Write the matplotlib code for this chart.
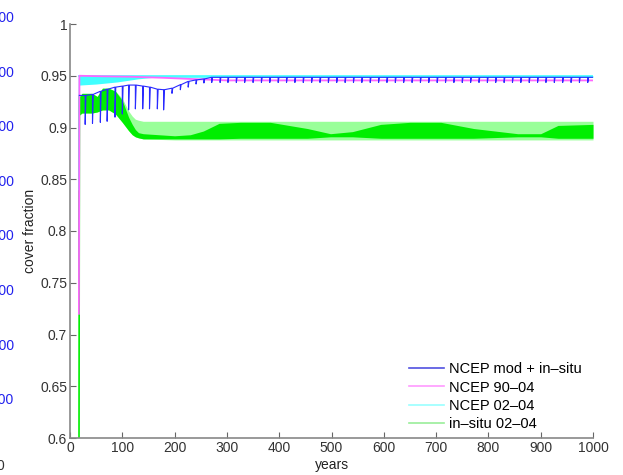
import matplotlib.pyplot as plt
from matplotlib.lines import Line2D

plt.rcParams['font.family'] = ['Liberation Sans', 'DejaVu Sans']

# year where every run jumps up from below the axis
rise_year = 17
rise_value = 0.5
blue_rise_value = 0.745

# NCEP mod + in-situ: baseline with periodic downward spikes
blue_spike_years = [29, 43, 58, 71, 86, 100, 112, 125, 139, 152, 167, 179,
                    195, 211, 226, 241, 256, 271, 287, 302, 318, 334, 350, 366,
                    382, 398, 414, 430, 446, 462, 478, 494, 510, 526, 542, 558,
                    574, 590, 606, 622, 638, 654, 670, 686, 702, 718, 734, 750,
                    766, 782, 798, 814, 830, 846, 862, 878, 894, 910, 926, 942,
                    958, 974, 990]
blue_tops = [0.931, 0.932, 0.935, 0.937, 0.939, 0.940, 0.941, 0.941, 0.940,
             0.939, 0.937, 0.9365, 0.938, 0.9414, 0.9446, 0.946, 0.947] + [0.9485] * 46
blue_lows = [0.903, 0.904, 0.905, 0.906, 0.910, 0.913, 0.917, 0.918, 0.918,
             0.918, 0.918, 0.917, 0.933, 0.9365, 0.939, 0.942, 0.943] + [0.9435] * 46

# NCEP 90-04
mag_years = [18, 60, 120, 180, 250, 300, 1000]
mag_vals = [0.950, 0.9495, 0.949, 0.948, 0.9465, 0.9455, 0.9455]

# NCEP 02-04 (band between upper and lower swing)
cyan_years = [18, 50, 90, 130, 160, 1000]
cyan_upper = [0.950, 0.950, 0.950, 0.950, 0.950, 0.950]
cyan_lower = [0.941, 0.942, 0.944, 0.947, 0.9485, 0.9485]

# in-situ 02-04: full swing (light) and dense core (dark)
green_years = [18, 23, 42, 52, 62, 74, 87, 100, 106, 112, 119, 125, 131, 140,
               200, 230, 255, 285, 326, 383, 454, 498, 540, 594, 650, 709,
               772, 856, 900, 933, 1000]
green_light_top = [0.930, 0.933, 0.933, 0.930, 0.938, 0.938, 0.935, 0.928, 0.922,
                   0.916, 0.911, 0.908, 0.907, 0.906, 0.906, 0.906, 0.906, 0.906,
                   0.906, 0.906, 0.906, 0.906, 0.906, 0.906, 0.906, 0.906, 0.906,
                   0.906, 0.906, 0.906, 0.906]
green_light_bot = [0.912, 0.914, 0.914, 0.915, 0.917, 0.917, 0.913, 0.905, 0.901,
                   0.897, 0.893, 0.891, 0.890, 0.889, 0.888, 0.888, 0.888, 0.888,
                   0.888, 0.888, 0.888, 0.888, 0.888, 0.888, 0.888, 0.888, 0.888,
                   0.888, 0.888, 0.888, 0.888]
green_dark_top = [0.930, 0.933, 0.933, 0.930, 0.938, 0.938, 0.935, 0.926, 0.918,
                  0.910, 0.903, 0.898, 0.895, 0.894, 0.892, 0.893, 0.8966, 0.904,
                  0.905, 0.905, 0.899, 0.894, 0.896, 0.903, 0.905, 0.905, 0.899,
                  0.894, 0.894, 0.902, 0.903]
green_dark_bot = [0.912, 0.914, 0.914, 0.915, 0.917, 0.917, 0.913, 0.905, 0.901,
                  0.897, 0.893, 0.891, 0.890, 0.889, 0.889, 0.889, 0.889, 0.889,
                  0.8896, 0.8896, 0.8896, 0.891, 0.891, 0.8896, 0.8896, 0.8896,
                  0.8896, 0.891, 0.891, 0.8896, 0.8896]

legend_labels = ['NCEP mod + in\u2013situ', 'NCEP 90\u201304', 'NCEP 02\u201304',
                 'in\u2013situ 02\u201304']

# cut-off labels of the neighbouring panel on the left
left_labels = ['1500', '1400', '1300', '1200', '1100', '1000', '900', '800']

blue_c = '#2a2aff'
mag_c = '#ff66ff'
cyan_c = '#40ffff'
green_c = '#00ee00'
green_light = '#99ff99'

fig = plt.figure(figsize=(6.23, 4.75), dpi=100)
ax = fig.add_axes([70 / 623, 37 / 475, 523 / 623, 414 / 475])

# blue jump, drawn underneath the others
ax.plot([rise_year, 18], [blue_rise_value, blue_tops[0]], color=blue_c, lw=0.9, zorder=0.5)

# green
ax.plot([rise_year, green_years[0]], [rise_value, green_dark_top[0]], color=green_c, lw=1.2, zorder=1)
ax.fill_between(green_years, green_light_bot, green_light_top, color=green_light, lw=0, zorder=1)
ax.fill_between(green_years, green_dark_bot, green_dark_top, color=green_c, lw=0, zorder=1.5)

# cyan
ax.plot([rise_year, cyan_years[0]], [0.84, cyan_upper[0]], color=cyan_c, lw=1, zorder=2)
ax.fill_between(cyan_years, cyan_lower, cyan_upper, color=cyan_c, lw=0, zorder=2)
ax.plot(cyan_years, cyan_upper, color=cyan_c, lw=1.2, zorder=2)

# magenta
ax.plot([rise_year] + mag_years, [0.72] + mag_vals, color=mag_c, lw=1.3, zorder=3)

# blue
bx = [18]
by = [blue_tops[0]]
for yr, top, low in zip(blue_spike_years, blue_tops, blue_lows):
    bx += [yr, yr, yr + 1.5]
    by += [top, low, top]
bx.append(1000)
by.append(blue_tops[-1])
ax.plot(bx, by, color=blue_c, lw=0.8, zorder=4)

ax.set_xlim(0, 1000)
ax.set_ylim(0.6, 1)
ax.set_xticks(range(0, 1001, 100))
ax.set_yticks([0.6, 0.65, 0.7, 0.75, 0.8, 0.85, 0.9, 0.95, 1])
ax.set_yticklabels(['0.6', '0.65', '0.7', '0.75', '0.8', '0.85', '0.9', '0.95', '1'])
for side in ['top', 'right']:
    ax.spines[side].set_visible(False)
for side in ['left', 'bottom']:
    ax.spines[side].set_color('#888888')
    ax.spines[side].set_linewidth(1.2)
ax.tick_params(direction='in', length=4, color='#666666', labelcolor='#333333', labelsize=10, pad=2)
ax.set_xlabel('years', fontsize=10, color='#222222', labelpad=2)
ax.set_ylabel('cover fraction', fontsize=10, color='#222222', labelpad=2)

handles = [Line2D([], [], color='#5050e0', lw=1.2),
           Line2D([], [], color='#ff99ff', lw=1.2),
           Line2D([], [], color='#99ffff', lw=1.2),
           Line2D([], [], color='#99ee99', lw=1.2)]
ax.legend(handles, legend_labels, loc='lower right', frameon=False, fontsize=10.5,
          handlelength=2.4, handletextpad=0.35, labelspacing=0.3,
          borderaxespad=0, bbox_to_anchor=(0.99, 0.002))

for i, lab in enumerate(left_labels):
    fig.text(14 / 623, 1 - (18 + i * 54.6) / 475, lab, color='#2222ee', fontsize=10,
             ha='right', va='center')
fig.text(4 / 623, 1 - 466 / 475, '0', color='#333333', fontsize=10, ha='right', va='center')

fig.savefig('out.png', dpi=100)
